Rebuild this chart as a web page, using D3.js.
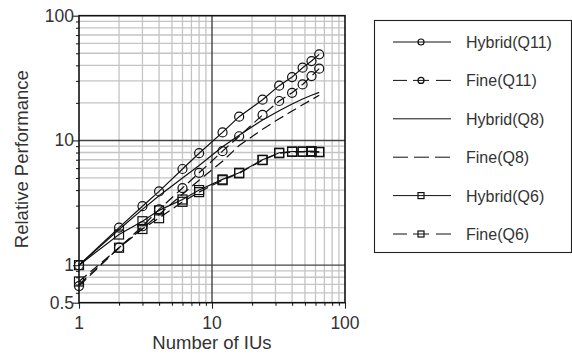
<!DOCTYPE html>
<html>
<head>
<meta charset="utf-8">
<script src="https://cdn.jsdelivr.net/npm/d3@7"></script>
<style>
  body { margin: 0; background: #fff; }
  text { font-family: "Liberation Sans", Arial, sans-serif; fill: #333; }
</style>
</head>
<body>
<div id="chart"></div>
<script>
// data
const ius = [1, 2, 3, 4, 6, 8, 12, 16, 24, 32, 40, 48, 56, 64];
const hybridQ11 = [1, 2, 2.97, 3.9, 5.9, 7.9, 11.6, 15.5, 21.2, 27.5, 32.2, 38.3, 43.3, 49];
const fineQ11   = [0.68, 1.38, 2.05, 2.8, 4.15, 5.5, 8.2, 10.8, 16, 20.7, 24.1, 28.1, 32.8, 37.6];
const hybridQ8  = [1, 1.93, 2.8, 3.6, 5.0, 6.3, 8.9, 11.0, 14.6, 17.3, 19.6, 21.5, 23, 24.3];
const fineQ8    = [0.7, 1.38, 1.97, 2.55, 3.7, 4.8, 6.8, 9.1, 12.3, 14.9, 17.2, 19.3, 21.2, 23];
const hybridQ6  = [1, 1.76, 2.25, 2.75, 3.36, 4.0, 4.87, 5.5, 7.0, 7.97, 8.15, 8.15, 8.2, 8.1];
const fineQ6    = [0.74, 1.38, 1.95, 2.38, 3.22, 3.85, 4.8, 5.45, 6.95, 7.9, 8.1, 8.1, 8.1, 8.05];
const seriesNames = ["Hybrid(Q11)", "Fine(Q11)", "Hybrid(Q8)", "Fine(Q8)", "Hybrid(Q6)", "Fine(Q6)"];
const xTicks = [1, 10, 100];
const yTicks = [0.5, 1, 10, 100];

const series = [
  {name: seriesNames[0], values: hybridQ11, dash: null, marker: "circle"},
  {name: seriesNames[1], values: fineQ11, dash: "10,5", marker: "circle"},
  {name: seriesNames[2], values: hybridQ8, dash: null, marker: null},
  {name: seriesNames[3], values: fineQ8, dash: "10,5", marker: null},
  {name: seriesNames[4], values: hybridQ6, dash: null, marker: "square"},
  {name: seriesNames[5], values: fineQ6, dash: "10,5", marker: "square"}
];

const W = 572, H = 361;
const svg = d3.select("#chart").append("svg")
  .attr("width", W).attr("height", H);

const x = d3.scaleLog().domain([1, 100]).range([79, 345]);
const y = d3.scaleLog().domain([0.5, 100]).range([302.7, 15.7]);

// minor values for grid
const xMinor = [];
for (let d = 1; d < 100; d *= 10) for (let k = 2; k <= 9; k++) xMinor.push(k * d);
const yMinor = [0.6, 0.7, 0.8, 0.9];
for (let d = 1; d < 100; d *= 10) for (let k = 2; k <= 9; k++) yMinor.push(k * d);

const grid = svg.append("g");
grid.selectAll(".gx").data(xMinor).enter().append("line")
  .attr("x1", d => x(d)).attr("x2", d => x(d))
  .attr("y1", y(100)).attr("y2", y(0.5))
  .attr("stroke", "#c4c4c4").attr("stroke-width", 1.3);
grid.selectAll(".gy").data(yMinor).enter().append("line")
  .attr("y1", d => y(d)).attr("y2", d => y(d))
  .attr("x1", x(1)).attr("x2", x(100))
  .attr("stroke", "#c4c4c4").attr("stroke-width", 1.3);
// major lines
grid.append("line").attr("x1", x(10)).attr("x2", x(10)).attr("y1", y(100)).attr("y2", y(0.5))
  .attr("stroke", "#444").attr("stroke-width", 1.4);
grid.selectAll(".my").data([1, 10]).enter().append("line")
  .attr("y1", d => y(d)).attr("y2", d => y(d)).attr("x1", x(1)).attr("x2", x(100))
  .attr("stroke", "#444").attr("stroke-width", 1.4);

// axes with outer ticks
const xAxis = svg.append("g").attr("transform", `translate(0,${y(0.5)})`)
  .call(d3.axisBottom(x).tickValues(xMinor.concat(xTicks)).tickSize(3).tickFormat(""));
const yAxis = svg.append("g").attr("transform", `translate(${x(1)},0)`)
  .call(d3.axisLeft(y).tickValues(yMinor.concat(yTicks)).tickSize(3).tickFormat(""));
[xAxis, yAxis].forEach(a => {
  a.select(".domain").remove();
  a.selectAll("line").attr("stroke", "#222").attr("stroke-width", 1.1);
});
yAxis.selectAll(".tick").filter(d => yTicks.includes(d)).select("line").attr("x2", -6);
xAxis.selectAll(".tick").filter(d => xTicks.includes(d)).select("line").attr("y2", 6);

// frame
svg.append("rect").attr("x", x(1)).attr("y", y(100))
  .attr("width", x(100) - x(1)).attr("height", y(0.5) - y(100))
  .attr("fill", "none").attr("stroke", "#111").attr("stroke-width", 1.6);

// tick labels
svg.selectAll(".xl").data(xTicks).enter().append("text")
  .attr("x", d => x(d)).attr("y", 329).attr("text-anchor", "middle")
  .attr("font-size", 17.5).text(d => d);
svg.selectAll(".yl").data(yTicks).enter().append("text")
  .attr("x", 74).attr("y", d => y(d) + 6).attr("text-anchor", "end")
  .attr("font-size", 17.5).text(d => d);

// axis titles
svg.append("text").attr("x", x(10)).attr("y", 349).attr("text-anchor", "middle")
  .attr("font-size", 18.5).text("Number of IUs");
svg.append("text").attr("transform", `translate(28,${(y(100) + y(0.5)) / 2}) rotate(-90)`)
  .attr("text-anchor", "middle").attr("font-size", 18.5).text("Relative Performance");

// series
const line = d3.line().x(d => x(d[0])).y(d => y(d[1]));
function drawMarker(g, type, cx, cy, s) {
  if (type === "circle") {
    g.append("circle").attr("cx", cx).attr("cy", cy).attr("r", s)
      .attr("fill", "none").attr("stroke", "#111").attr("stroke-width", 1.2);
  } else if (type === "square") {
    g.append("rect").attr("x", cx - s).attr("y", cy - s).attr("width", 2 * s).attr("height", 2 * s)
      .attr("fill", "none").attr("stroke", "#111").attr("stroke-width", 1.2);
  }
}
const plot = svg.append("g");
series.forEach(s => {
  const pts = ius.map((v, i) => [v, s.values[i]]);
  plot.append("path").datum(pts).attr("d", line)
    .attr("fill", "none").attr("stroke", "#111").attr("stroke-width", 1.2)
    .attr("stroke-dasharray", s.dash);
  if (s.marker) pts.forEach(p => drawMarker(plot, s.marker, x(p[0]), y(p[1]), 4.5));
});

// legend
const lg = svg.append("g");
lg.append("rect").attr("x", 374.5).attr("y", 20.5).attr("width", 197).attr("height", 232)
  .attr("fill", "#fff").attr("stroke", "#222").attr("stroke-width", 1.1);
series.forEach((s, i) => {
  const cy = 42 + i * 38.4;
  if (s.dash && s.marker) {
    lg.append("line").attr("x1", 393).attr("x2", 407).attr("y1", cy).attr("y2", cy).attr("stroke", "#111");
    lg.append("line").attr("x1", 413).attr("x2", 429).attr("y1", cy).attr("y2", cy).attr("stroke", "#111");
    lg.append("line").attr("x1", 436).attr("x2", 451).attr("y1", cy).attr("y2", cy).attr("stroke", "#111");
  } else if (s.dash) {
    lg.append("line").attr("x1", 393).attr("x2", 451).attr("y1", cy).attr("y2", cy)
      .attr("stroke", "#111").attr("stroke-dasharray", "15,6");
  } else {
    lg.append("line").attr("x1", 393).attr("x2", 451).attr("y1", cy).attr("y2", cy).attr("stroke", "#111");
  }
  if (s.marker) drawMarker(lg, s.marker, 421, cy, 3);
  lg.append("text").attr("x", 466).attr("y", cy + 6).attr("font-size", 16).text(s.name);
});
</script>
</body>
</html>
